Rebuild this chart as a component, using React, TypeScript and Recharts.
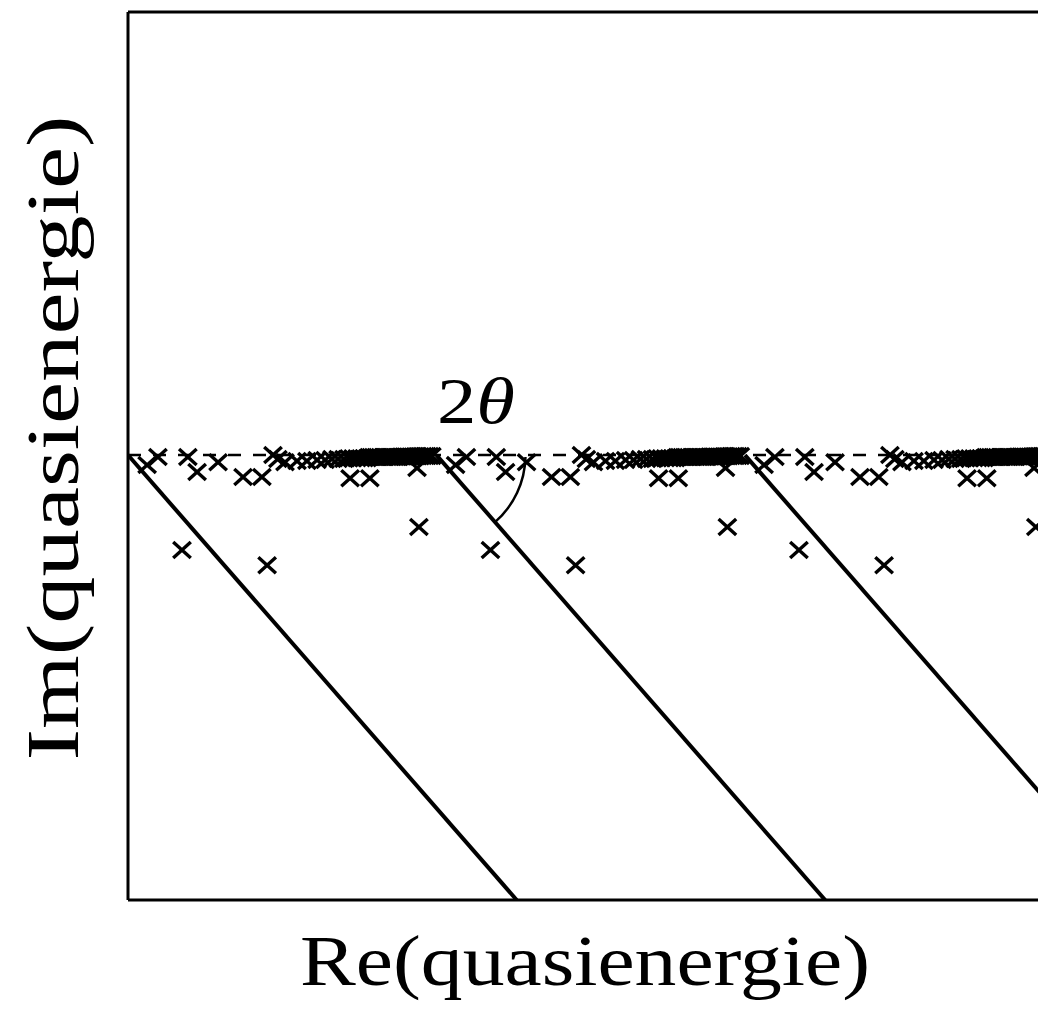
import { ComposedChart, Line, Scatter, XAxis, YAxis, ReferenceLine, ReferenceDot } from 'recharts';

// Quasienergies of one zone (Re in units of hbar*omega); the spectrum repeats in every zone
const zoneShifts = [0, 1, 2];

// isolated resonances
const resonanceRe = [0.062, 0.097, 0.194, 0.224, 0.292, 0.373, 0.434, 0.470, 0.486, 0.720, 0.784, 0.937, 0.943, 0.175, 0.451];
const resonanceIm = [-0.032, -0.006, -0.006, -0.055, -0.023, -0.071, -0.071, 0.0, -0.013, -0.075, -0.075, -0.042, -0.233, -0.308, -0.357];

// states piling up towards the next threshold
const thresholdRe = [
  0.509, 0.548, 0.580, 0.613, 0.639, 0.661, 0.681, 0.700, 0.716, 0.729, 0.742, 0.755, 0.765, 0.775,
  0.781, 0.788, 0.796, 0.804, 0.810, 0.818, 0.827, 0.833, 0.841, 0.849, 0.856, 0.864, 0.872, 0.878,
  0.887, 0.895, 0.901, 0.909, 0.917, 0.924, 0.932, 0.940, 0.947, 0.955, 0.963, 0.969, 0.977, 0.985,
];
const thresholdIm = [
  -0.023, -0.019, -0.019, -0.016, -0.016, -0.013, -0.013, -0.013, -0.010, -0.010, -0.010, -0.010, -0.010, -0.010,
  -0.006, -0.006, -0.006, -0.006, -0.006, -0.006, -0.006, -0.006, -0.006, -0.006, -0.006, -0.006, -0.006, -0.006,
  -0.005, -0.005, -0.005, -0.005, -0.005, -0.005, -0.004, -0.004, -0.004, -0.003, -0.003, -0.003, -0.003, -0.003,
];

// rotated continuum, starting at the threshold of each zone
const continuumRe = [0, 1.26];
const continuumIm = [0, -1.443];

const reDomain: [number, number] = [0, 2.95];
const imDomain: [number, number] = [-1.443, 1.437];

const W = 1038;
const H = 1010;
const LEFT = 128;
const BOTTOM = 110;
const TOP = 12;
const FONT = '"Liberation Serif", serif';

const points = zoneShifts.flatMap(k => [
  ...resonanceRe.map((re, i) => ({ x: re + k, y: resonanceIm[i] })),
  ...thresholdRe.map((re, i) => ({ x: re + k, y: thresholdIm[i] })),
]);

const continua = zoneShifts.map(k => continuumRe.map((re, i) => ({ x: re + k, y: continuumIm[i] })));

// angle of the continuum in screen space
const pxRe = (W - LEFT) / (reDomain[1] - reDomain[0]);
const pxIm = (H - TOP - BOTTOM) / (imDomain[1] - imDomain[0]);
const rotAngle = Math.atan2(
  -(continuumIm[1] - continuumIm[0]) * pxIm,
  (continuumRe[1] - continuumRe[0]) * pxRe,
);

const XMark = (props: any) => {
  const { cx, cy } = props;
  if (cx == null || cy == null) return null;
  const hx = 8.8;
  const hy = 8;
  return (
    <path
      d={`M${cx - hx},${cy - hy}L${cx + hx},${cy + hy}M${cx - hx},${cy + hy}L${cx + hx},${cy - hy}`}
      stroke="#000"
      strokeWidth={3.4}
      fill="none"
    />
  );
};

const AngleArc = (props: any) => {
  const { cx, cy } = props;
  if (cx == null || cy == null) return null;
  const r = 89;
  const ex = cx + r * Math.cos(rotAngle);
  const ey = cy + r * Math.sin(rotAngle);
  return <path d={`M${cx + r},${cy + 2}A${r},${r} 0 0 1 ${ex},${ey}`} stroke="#000" strokeWidth={2.5} fill="none" />;
};

const AngleLabel = (props: any) => {
  const { cx, cy } = props;
  if (cx == null || cy == null) return null;
  return (
    <text
      x={cx}
      y={cy}
      textAnchor="middle"
      fontFamily={FONT}
      fontSize={66}
      textLength={78}
      lengthAdjust="spacingAndGlyphs"
      fill="#000"
    >
      2<tspan fontStyle="italic">θ</tspan>
    </text>
  );
};

export default function App() {
  return (
    <div style={{ position: 'absolute', left: 0, top: 0 }}>
      <ComposedChart width={W} height={H} margin={{ top: TOP, right: 0, bottom: 0, left: 0 }}>
        <XAxis
          type="number"
          dataKey="x"
          domain={reDomain}
          allowDataOverflow
          height={BOTTOM}
          tick={false}
          tickLine={false}
          axisLine={{ stroke: '#000', strokeWidth: 3 }}
          label={{
            content: () => (
              <text
                x={585}
                y={985}
                textAnchor="middle"
                fontFamily={FONT}
                fontSize={72}
                textLength={570}
                lengthAdjust="spacingAndGlyphs"
                fill="#000"
              >
                Re(quasienergie)
              </text>
            ),
          }}
        />
        <YAxis
          type="number"
          dataKey="y"
          domain={imDomain}
          allowDataOverflow
          width={LEFT}
          tick={false}
          tickLine={false}
          axisLine={{ stroke: '#000', strokeWidth: 3 }}
          label={{
            content: () => (
              <text
                x={78}
                y={438}
                transform="rotate(-90 78 438)"
                textAnchor="middle"
                fontFamily={FONT}
                fontSize={74}
                textLength={645}
                lengthAdjust="spacingAndGlyphs"
                fill="#000"
              >
                Im(quasienergie)
              </text>
            ),
          }}
        />
        <ReferenceLine y={imDomain[1]} stroke="#000" strokeWidth={3} />
        <ReferenceLine y={0} stroke="#000" strokeWidth={2.5} strokeDasharray="13 12" />
        {continua.map((seg, i) => (
          <Line
            key={i}
            data={seg}
            dataKey="y"
            type="linear"
            stroke="#000"
            strokeWidth={4}
            dot={false}
            activeDot={false}
            isAnimationActive={false}
          />
        ))}
        <Scatter data={points} dataKey="y" shape={XMark} isAnimationActive={false} />
        <ReferenceDot x={1} y={0} shape={AngleArc} />
        <ReferenceDot x={1.128} y={0.104} shape={AngleLabel} />
      </ComposedChart>
    </div>
  );
}
